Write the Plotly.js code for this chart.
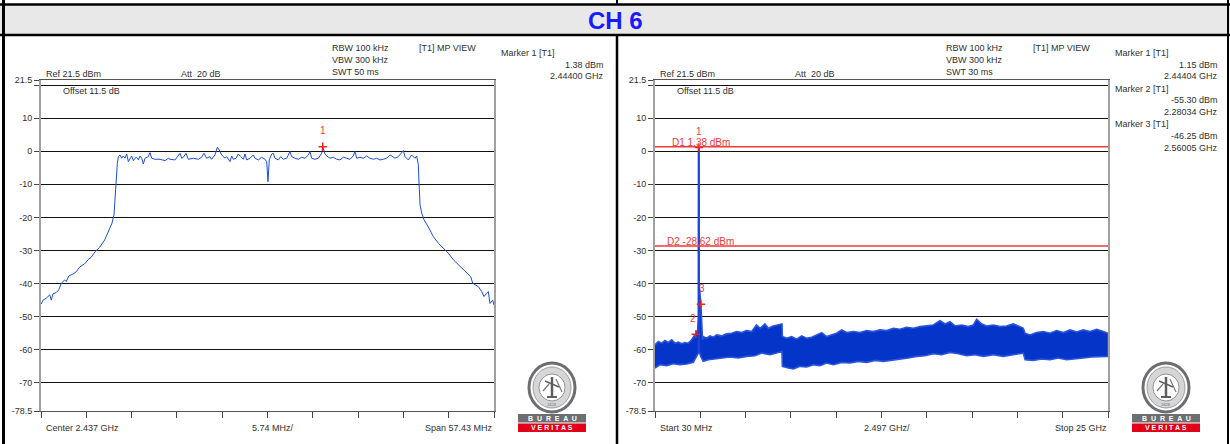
<!DOCTYPE html>
<html>
<head>
<meta charset="utf-8">
<script src="https://cdn.plot.ly/plotly-3.0.1.min.js"></script>
<style>html,body{margin:0;padding:0;background:#fff;}#chart{width:1230px;height:444px;}</style>
</head>
<body>
<div id="chart"></div>
<script>
// ---------- data ----------
const channelTitle = "CH 6";

// Left: in-band sweep (MHz, dBm)
const leftFreqMHz = [2408.32,2408.54,2408.96,2409.39,2409.59,2409.81,2410.22,2410.53,2410.86,2411.29,2411.49,2411.80,2412.34,2412.76,2413.19,2413.83,2414.24,2414.66,2415.17,2415.73,2416.36,2416.87,2417.29,2417.54,2417.70,2417.83,2417.96,
2418.09,2418.30,2418.51,2418.72,2418.94,2419.15,2419.36,2419.57,2419.78,2419.99,2420.20,2420.41,2420.63,2420.84,2421.05,2421.26,2421.47,2421.89,2422.10,2422.32,2422.74,2423.37,2424.01,2424.43,2424.64,2425.27,2425.70,2425.91,2426.12,2426.33,2426.67,2426.96,2427.60,2428.23,2428.65,2428.95,2429.29,2429.71,2429.92,2430.34,2430.64,2430.89,2431.19,2431.61,2431.82,2432.25,2432.46,2432.67,2433.01,2433.30,2433.60,2433.94,2434.15,2434.36,2434.78,2435.20,2435.42,2435.84,2436.26,2436.68,2436.90,2437.06,2437.23,2437.53,2437.74,2437.95,2438.37,2438.67,2439.01,2439.43,2439.85,2440.06,2440.49,2440.91,2441.33,2441.75,2442.18,2442.39,2442.60,2443.02,2443.45,2443.87,2444.00,2444.29,2444.50,2444.92,2445.35,2445.77,2446.19,2446.62,2447.04,2447.46,2447.88,2448.09,2448.31,2448.73,2449.15,2449.57,2449.99,2450.42,2450.84,2451.26,2451.69,2452.11,2452.53,2452.87,2453.17,2453.59,2454.01,2454.22,2454.43,2454.85,2455.28,2455.70,2455.91,
2456.12,2456.21,2456.34,2456.55,2456.84,2457.39,2458.02,2458.66,2459.29,2459.92,2460.56,2461.19,2461.82,2462.46,2462.76,2463.02,2463.31,2463.72,2464.16,2464.45,2464.79,2464.99,2465.21,2465.55,2465.72];
const leftLevelDbm = [-46.2,-45,-44.4,-43.4,-45,-43.1,-42.7,-41.9,-39.9,-38.9,-39.4,-37.7,-37.1,-36.4,-35.0,-34.0,-32.8,-32.0,-30.3,-29.0,-26.8,-24.2,-21.7,-19.2,-13.6,-6.6,-3.7,
-1.62,-1.12,-2.12,-1.42,-2.12,-0.82,-3.13,-2.12,-1.42,-2.83,-2.12,-1.82,-2.63,-1.42,-2.12,-3.84,-2.12,-1.62,-0.42,-2.12,-2.43,-2.43,-2.83,-2.12,-2.43,-2.63,-1.42,-0.62,-2.12,-1.82,-0.62,-2.43,-2.12,-2.43,-1.82,-0.62,-2.12,-1.62,-2.43,-1.12,1.20,0.39,-1.12,-2.12,-1.62,-3.13,-1.42,-2.43,-2.12,-0.82,-1.62,-2.43,-0.82,-2.63,-2.12,-1.12,-2.12,-2.63,-1.82,-2.43,-3.13,-9.20,-2.63,-0.82,-0.62,-2.12,-2.63,-1.62,-2.43,-2.12,-0.10,-1.62,-2.12,-2.43,-1.82,-2.12,-1.12,-0.10,-2.12,-2.43,-2.12,-0.62,1.38,-0.82,-1.42,-2.12,-1.82,-2.43,-2.63,-1.82,-2.12,-2.43,-1.42,-0.10,-2.12,-1.82,-2.12,-1.42,-2.12,-2.43,-2.12,-2.63,-2.43,-2.12,-1.12,-1.62,-2.12,-1.62,-0.62,0.19,-1.62,-2.63,-1.12,-2.12,-1.42,
-4.0,-9.6,-16.2,-18.7,-20.7,-22.9,-25.8,-27.8,-29.3,-30.8,-32.8,-34.3,-35.9,-37.4,-37.9,-39.9,-40.4,-40.9,-42.4,-43.9,-42.9,-42.4,-46.0,-45.0,-46.5];

// Right: 30 MHz - 25 GHz sweep, envelope of the trace (GHz, dBm)
const rightUpperGHz = [0.03,0.21,0.40,0.58,0.76,0.95,1.13,1.32,1.50,1.68,1.87,2.05,2.18,2.28,2.38,2.43,2.444,2.46,2.56,2.65,2.69,2.88,3.06,3.25,3.43,3.70,3.98,4.26,4.53,4.81,5.08,5.36,5.63,5.82,6.09,6.28,6.55,6.83,7.03,7.05,7.29,7.56,7.84,8.11,8.39,8.67,8.94,9.22,9.49,9.77,10.04,10.32,10.60,10.96,11.33,11.70,12.07,12.43,12.80,13.17,13.53,13.90,14.27,14.64,15.00,15.37,15.74,16.02,16.29,16.57,16.93,17.30,17.58,17.76,18.04,18.31,18.68,19.05,19.41,19.78,20.15,20.33,20.43,20.70,21.07,21.44,21.80,22.17,22.54,22.91,23.27,23.64,24.01,24.38,24.74,25.00];
const rightUpperDbm = [-58.5,-57.5,-58,-57.2,-57.8,-57,-58,-57.7,-58.2,-57.8,-58,-57,-55.8,-55.3,-54,-50,1.15,-40,-46.25,-57,-56,-56.5,-55.8,-56.2,-55.5,-55.8,-55.2,-55,-54.5,-54.8,-54.2,-54.5,-52.5,-53.5,-52.2,-53.5,-52.8,-52.5,-52.2,-56,-56.5,-56,-56.8,-55.8,-56.5,-56.2,-55.5,-54.8,-56,-55.5,-55,-54,-54.8,-54.5,-54.8,-54.2,-54.5,-54,-54.2,-53.5,-53.8,-53.2,-53.5,-53,-52.8,-52.5,-51.2,-52.2,-51.5,-52.8,-52.5,-53,-52.5,-50.8,-52.2,-52.8,-52.5,-53,-52.8,-52.2,-53,-53.5,-55,-55.5,-54.8,-54.5,-55,-54.2,-54.8,-54,-54.6,-54,-54.5,-53.8,-54.5,-55];
const rightLowerGHz = [0.03,0.31,0.67,1.04,1.41,1.78,2.14,2.33,2.47,2.55,2.69,2.97,3.34,3.70,4.16,4.62,5.08,5.54,5.91,6.37,6.74,7.03,7.05,7.38,7.66,8.02,8.39,8.76,9.12,9.49,9.86,10.32,10.78,11.24,11.70,12.16,12.62,13.08,13.53,13.99,14.45,14.91,15.37,15.83,16.29,16.75,17.21,17.67,18.13,18.68,19.23,19.78,20.33,20.43,20.88,21.34,21.80,22.26,22.72,23.18,23.64,24.10,24.56,25.00];
const rightLowerDbm = [-65.5,-64.5,-64.8,-64.2,-64.5,-64.3,-63.8,-62,-60.5,-62,-63.5,-63,-62.8,-62.5,-62.2,-62.5,-62,-61.8,-61,-61.5,-61,-60.5,-65,-65.5,-65.8,-65,-65.2,-64.5,-64.8,-64,-64.5,-63.8,-64,-63.5,-63.8,-63.2,-63.5,-63,-62.8,-62.5,-62,-61.8,-61.2,-61.5,-60.8,-61.2,-61.8,-61.5,-62,-61.5,-62,-61.5,-61,-63,-63.2,-62.8,-63,-62.5,-63,-62.8,-62.5,-62.2,-62,-62];

// Markers
const leftMarkerNames = ["1"];
const leftMarkerMHz = [2444.00];
const leftMarkerDbm = [1.38];
const rightMarkerNames = ["1","2","3"];
const rightMarkerGHz = [2.44404, 2.28034, 2.56005];
const rightMarkerDbm = [1.15, -55.30, -46.25];
const rightCarrierBaseDbm = -61;

// Display lines
const displayLineNames = ["D1", "D2"];
const displayLineDbm = [1.38, -28.62];

// Axis settings
const yTickVals = [21.5, 20, 10, 0, -10, -20, -30, -40, -50, -60, -70, -78.5];
const yTickText = ["21.5", "", "10", "0", "-10", "-20", "-30", "-40", "-50", "-60", "-70", "-78.5"];
const leftCenterMHz = 2437, leftSpanMHz = 57.43;
const rightStartGHz = 0.03, rightStopGHz = 25;

// Header texts
const leftHeader = {rbw:"RBW 100 kHz", vbw:"VBW 300 kHz", swt:"SWT 50 ms", view:"[T1] MP VIEW", ref:"Ref 21.5 dBm", att:"Att\u00a0 20 dB", offset:"Offset 11.5 dB",
  markers:[["Marker 1 [T1]","1.38 dBm","2.44400 GHz"]], bottom:["Center 2.437 GHz","5.74 MHz/","Span 57.43 MHz"]};
const rightHeader = {rbw:"RBW 100 kHz", vbw:"VBW 300 kHz", swt:"SWT 30 ms", view:"[T1] MP VIEW", ref:"Ref 21.5 dBm", att:"Att\u00a0 20 dB", offset:"Offset 11.5 dB",
  markers:[["Marker 1 [T1]","1.15 dBm","2.44404 GHz"],["Marker 2 [T1]","-55.30 dBm","2.28034 GHz"],["Marker 3 [T1]","-46.25 dBm","2.56005 GHz"]],
  bottom:["Start 30 MHz","2.497 GHz/","Stop 25 GHz"]};

// ---------- drawing ----------
const W = 1230, H = 444;
const FONT = "Liberation Sans, Arial, sans-serif";
const TXT = "#303030";
const px = x => x / W;
const py = y => 1 - y / H;

const annotations = [];
const shapes = [];
function T(text, x, y, anchor, size, color, bold) {
  annotations.push({text: bold ? "<b>" + text + "</b>" : text, x: px(x), y: py(y), xref: "paper", yref: "paper",
    xanchor: anchor || "left", yanchor: "middle", showarrow: false, borderpad: 0,
    font: {family: FONT, size: size || 9, color: color || TXT}});
}
function R(x0, y0, x1, y1, fill, lineColor, lw, layer) {
  shapes.push({type: "rect", xref: "paper", yref: "paper", x0: px(x0), x1: px(x1), y0: py(y1), y1: py(y0),
    fillcolor: fill, line: {color: lineColor || fill, width: lw === undefined ? 0 : lw}, layer: layer || "below"});
}
function L(x0, y0, x1, y1, color, w, layer) {
  shapes.push({type: "line", xref: "paper", yref: "paper", x0: px(x0), x1: px(x1), y0: py(y0), y1: py(y1),
    line: {color: color, width: w}, layer: layer || "above"});
}
function E(x0, y0, x1, y1, fill, lineColor, lw) {
  shapes.push({type: "circle", xref: "paper", yref: "paper", x0: px(x0), x1: px(x1), y0: py(y1), y1: py(y0),
    fillcolor: fill, line: {color: lineColor, width: lw}, layer: "above"});
}

// frame + title band
R(0, 5, W, 35, "#e8e8e8");
L(0, 4.5, W, 4.5, "#000", 2.5);
L(0, 35, W, 35, "#000", 2.5);
L(3.5, 0, 3.5, H, "#000", 3);
L(1228, 0, 1228, H, "#000", 2);
L(617, 0, 617, 4, "#000", 2);
L(617, 35, 617, H, "#000", 2.5);
T(channelTitle, 615, 20.5, "center", 24, "#1a1aff", true);

function header(h, ox) {
  T(h.rbw, ox + 331, 48, "left");
  T(h.vbw, ox + 331, 60, "left");
  T(h.swt, ox + 331, 72, "left");
  T(h.view, ox + 418, 48, "left");
  T(h.ref, ox + 45, 73.5, "left");
  T(h.att, ox + 180, 73.5, "left");
  T(h.offset, ox + 62, 91, "left");
  h.markers.forEach((m, i) => {
    const y0 = 53 + i * 35.5;
    T(m[0], ox + 500, y0, "left");
    T(m[1], ox + 605, y0 + 12, "right");
    T(m[2], ox + 605, y0 + 23.5, "right");
  });
  T(h.bottom[0], ox + 45, 428, "left");
  T(h.bottom[1], ox + 273, 428, "center");
  T(h.bottom[2], ox + 494, 428, "right");
}
header(leftHeader, 0);
header(rightHeader, 614);

function logo(ox) {
  E(ox + 11, 363, ox + 57, 412, "#ffffff", "#6d6e71", 3);
  E(ox + 15, 367, ox + 53, 408, "#d6d6d6", "#8a8a8a", 0.8);
  E(ox + 21, 374, ox + 47, 401, "#ffffff", "#7a7a7a", 0.8);
  // stylised figure
  L(ox + 34, 377, ox + 34, 397, "#5d5e61", 2.5);
  L(ox + 27, 381, ox + 41, 387, "#5d5e61", 1.5);
  L(ox + 29, 397, ox + 39, 397, "#5d5e61", 2);
  L(ox + 25, 391, ox + 31, 384, "#7a7a7a", 1.2);
  L(ox + 38, 379, ox + 44, 392, "#7a7a7a", 1.2);
  R(ox, 414, ox + 68, 422.5, "#6d6e71", null, 0, "above");
  R(ox, 423.5, ox + 68, 432, "#e2001a", null, 0, "above");
  annotations.push({text: "<b>B  U  R  E  A  U</b>", x: px(ox + 34), y: py(418.3), xref: "paper", yref: "paper", xanchor: "center", yanchor: "middle", showarrow: false, font: {family: FONT, size: 7, color: "#fff"}});
  annotations.push({text: "<b>V E R I T A S</b>", x: px(ox + 34), y: py(427.8), xref: "paper", yref: "paper", xanchor: "center", yanchor: "middle", showarrow: false, font: {family: FONT, size: 7, color: "#fff"}});
  annotations.push({text: "1828", x: px(ox + 34), y: py(404), xref: "paper", yref: "paper", xanchor: "center", yanchor: "middle", showarrow: false, font: {family: FONT, size: 4, color: "#6d6e71"}});
}
logo(518);
logo(1132);

// axes
const leftStart = leftCenterMHz - leftSpanMHz / 2, leftStop = leftCenterMHz + leftSpanMHz / 2;
const leftTicks = [], rightTicks = [];
for (let i = 0; i <= 10; i++) {
  leftTicks.push(leftStart + i * leftSpanMHz / 10);
  rightTicks.push(rightStartGHz + i * (rightStopGHz - rightStartGHz) / 10);
}
const ydom = [py(411), py(80.1)];
function xax(domain, range, ticks, anchor) {
  return {domain: domain, range: range, anchor: anchor, tickvals: ticks, ticks: "outside", ticklen: 6, tickwidth: 1, tickcolor: "#444",
    showticklabels: false, showgrid: false, zeroline: false, showline: true, mirror: true, linecolor: "#555", linewidth: 1, fixedrange: true};
}
function yax(anchor) {
  return {domain: ydom, range: [-78.5, 21.5], anchor: anchor, tickvals: yTickVals, ticktext: yTickText, ticks: "outside", ticklen: 5,
    tickwidth: 1, tickcolor: "#444", tickfont: {family: FONT, size: 9, color: TXT}, showgrid: true, gridcolor: "#111", gridwidth: 1,
    zeroline: false, showline: true, mirror: true, linecolor: "#a0a0a0", linewidth: 2, fixedrange: true};
}

// display lines + labels (right)
displayLineDbm.forEach((v, i) => {
  shapes.push({type: "line", xref: "x2 domain", yref: "y2", x0: 0, x1: 1, y0: v, y1: v, line: {color: "#f03a3a", width: 1.5}, layer: "above"});
  annotations.push({text: displayLineNames[i] + " " + v.toFixed(2) + " dBm", xref: "x2 domain", yref: "y2", x: i === 0 ? 0.033 : 0.022, y: v,
    xanchor: "left", yanchor: "middle", yshift: 4, showarrow: false, font: {family: FONT, size: 10, color: "#f03a3a"}});
});

// marker labels
leftMarkerNames.forEach((n, i) => annotations.push({text: n, xref: "x", yref: "y", x: leftMarkerMHz[i], y: leftMarkerDbm[i], yshift: 16,
  showarrow: false, font: {family: FONT, size: 10, color: "#f03a3a"}}));
rightMarkerNames.forEach((n, i) => annotations.push({text: n, xref: "x2", yref: "y2", x: rightMarkerGHz[i], y: rightMarkerDbm[i], yshift: 16,
  xshift: n === "2" ? -3 : (n === "3" ? 1 : 0), showarrow: false, font: {family: FONT, size: 10, color: "#f03a3a"}}));

const polyX = rightUpperGHz.concat(rightLowerGHz.slice().reverse());
const polyY = rightUpperDbm.concat(rightLowerDbm.slice().reverse());

const traces = [
  {x: leftFreqMHz, y: leftLevelDbm, xaxis: "x", yaxis: "y", type: "scatter", mode: "lines",
    line: {color: "#1d4ed8", width: 1}, hoverinfo: "skip"},
  {x: polyX, y: polyY, xaxis: "x2", yaxis: "y2", type: "scatter", mode: "lines", fill: "toself",
    fillcolor: "#0535c8", line: {color: "#2a55dc", width: 1.6}, hoverinfo: "skip"},
  {x: [rightMarkerGHz[0], rightMarkerGHz[0]], y: [rightCarrierBaseDbm, rightMarkerDbm[0]], xaxis: "x2", yaxis: "y2", type: "scatter",
    mode: "lines", line: {color: "#1a46e0", width: 2.2}, hoverinfo: "skip"},
  {x: leftMarkerMHz, y: leftMarkerDbm, xaxis: "x", yaxis: "y", type: "scatter", mode: "markers",
    marker: {symbol: "cross-thin", size: 6, color: "#f02020", line: {color: "#f02020", width: 1.4}}, hoverinfo: "skip"},
  {x: rightMarkerGHz, y: rightMarkerDbm, xaxis: "x2", yaxis: "y2", type: "scatter", mode: "markers",
    marker: {symbol: "cross-thin", size: 6, color: "#f02020", line: {color: "#f02020", width: 1.4}}, hoverinfo: "skip"}
];

const layout = {
  width: W, height: H, margin: {l: 0, r: 0, t: 0, b: 0}, paper_bgcolor: "#ffffff", plot_bgcolor: "#ffffff",
  showlegend: false, font: {family: FONT, size: 9, color: TXT},
  xaxis: xax([px(41), px(494)], [leftStart, leftStop], leftTicks, "y"),
  yaxis: yax("x"),
  xaxis2: xax([px(655), px(1108)], [rightStartGHz, rightStopGHz], rightTicks, "y2"),
  yaxis2: yax("x2"),
  shapes: shapes, annotations: annotations
};
Plotly.newPlot("chart", traces, layout, {staticPlot: true, displayModeBar: false});
</script>
</body>
</html>
